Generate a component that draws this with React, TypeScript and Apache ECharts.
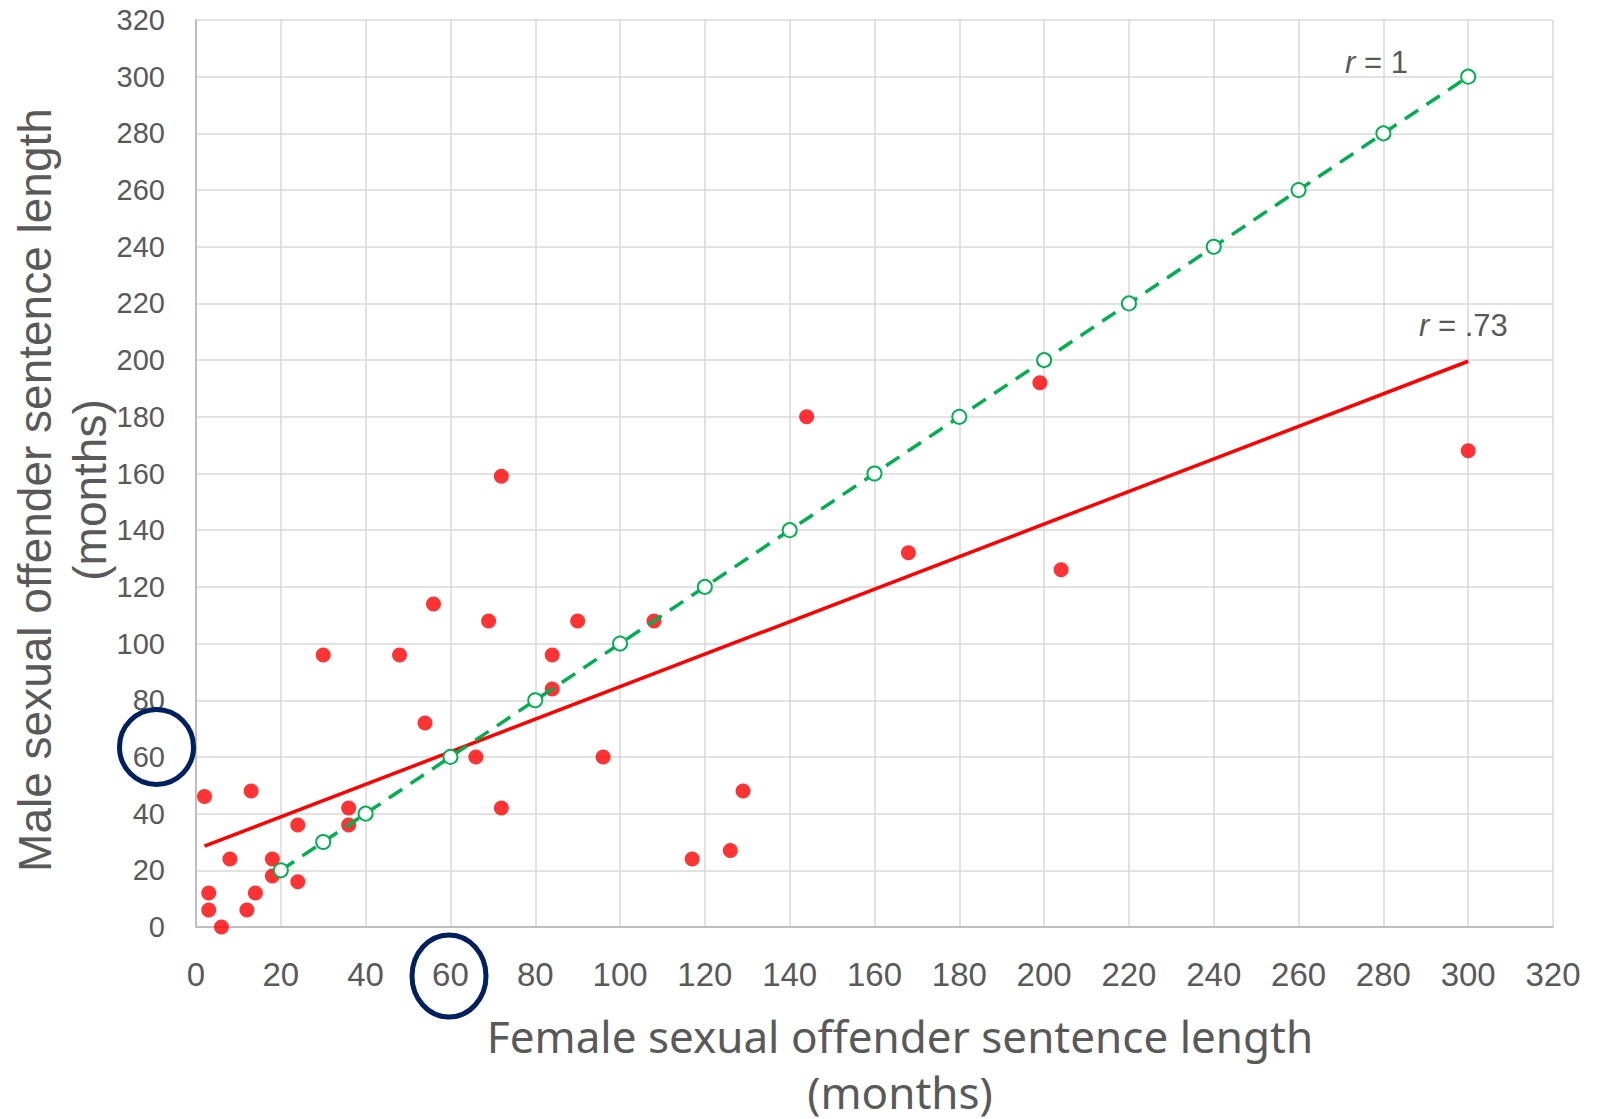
import React, { useEffect, useRef } from "react";
import * as echarts from "echarts";

// Female (x) vs male (y) sentence lengths, in months
const femaleMonths = [2, 13, 3, 3, 6, 8, 12, 14, 18, 18, 24, 24, 30, 36, 36, 48, 54, 56, 66, 69, 72, 72, 84, 84, 90, 96, 108, 117, 126, 129, 144, 168, 199, 204, 300];
const maleMonths = [46, 48, 12, 6, 0, 24, 6, 12, 24, 18, 36, 16, 96, 42, 36, 96, 72, 114, 60, 108, 159, 42, 96, 84, 108, 60, 108, 24, 27, 48, 180, 132, 192, 126, 168];

// Fitted line (r = .73)
const trendX = [2, 300];
const trendY = [28.5, 199.6];

// Identity line (r = 1)
const identityX = [20, 30, 40, 60, 80, 100, 120, 140, 160, 180, 200, 220, 240, 260, 280, 300];
const identityY = [20, 30, 40, 60, 80, 100, 120, 140, 160, 180, 200, 220, 240, 260, 280, 300];

const axisMin = 0;
const axisMax = 320;
const axisStep = 20;

const xTitle = "Female sexual offender sentence length";
const yTitle = "Male sexual offender sentence length";
const unitTitle = "(months)";

export default function App() {
  const ref = useRef<HTMLDivElement>(null);

  useEffect(() => {
    if (!ref.current) return;
    const chart = echarts.init(ref.current, undefined, { renderer: "svg" });
    const grey = "#595959";
    const tickFont = "'Liberation Sans', Arial, sans-serif";
    const titleFont = "'Noto Sans', 'Open Sans', sans-serif";

    const rLabel = (x: number, y: number, value: string) => ({
      type: "text",
      x,
      y,
      style: {
        text: "{i|r}{n| = " + value + "}",
        fill: grey,
        fontSize: 31,
        fontFamily: tickFont,
        textAlign: "left",
        textVerticalAlign: "middle",
        rich: {
          i: { fontStyle: "italic", fontSize: 31, fill: grey, fontFamily: tickFont },
          n: { fontSize: 31, fill: grey, fontFamily: tickFont },
        },
      },
      z: 10,
    });

    chart.setOption({
      animation: false,
      backgroundColor: "#ffffff",
      grid: { left: 196, top: 20, right: 56, bottom: 192, containLabel: false },
      xAxis: {
        type: "value",
        min: axisMin,
        max: axisMax,
        interval: axisStep,
        axisLine: { show: true, lineStyle: { color: "#BFBFBF", width: 2 } },
        axisTick: { show: false },
        axisLabel: { color: grey, fontSize: 33, fontFamily: tickFont, margin: 31 },
        splitLine: { show: true, lineStyle: { color: "#D9D9D9", width: 1.5 } },
      },
      yAxis: {
        type: "value",
        min: axisMin,
        max: axisMax,
        interval: axisStep,
        axisLine: { show: true, lineStyle: { color: "#BFBFBF", width: 2 } },
        axisTick: { show: false },
        axisLabel: { color: grey, fontSize: 29, fontFamily: tickFont, margin: 31 },
        splitLine: { show: true, lineStyle: { color: "#D9D9D9", width: 1.5 } },
      },
      series: [
        {
          type: "scatter",
          name: "Sentences",
          data: femaleMonths.map((x, i) => [x, maleMonths[i]]),
          symbol: "circle",
          symbolSize: 15,
          itemStyle: { color: "#FF0000" },
          z: 2,
        },
        {
          type: "line",
          name: "r = .73",
          data: trendX.map((x, i) => [x, trendY[i]]),
          showSymbol: false,
          symbol: "none",
          lineStyle: { color: "#FF0000", width: 3.5 },
          z: 3,
        },
        {
          type: "line",
          name: "r = 1",
          data: identityX.map((x, i) => [x, identityY[i]]),
          symbol: "circle",
          symbolSize: 14,
          showSymbol: true,
          itemStyle: { color: "#ffffff", borderColor: "#00B050", borderWidth: 2 },
          lineStyle: { color: "#00B050", width: 3.5, type: [16, 10] },
          z: 4,
        },
      ],
      graphic: [
        rLabel(1345, 62, "1"),
        rLabel(1419, 325, ".73"),
        {
          type: "text",
          x: 900,
          y: 1036,
          style: {
            text: xTitle,
            fill: grey,
            fontSize: 44,
            fontFamily: titleFont,
            textAlign: "center",
            textVerticalAlign: "middle",
          },
        },
        {
          type: "text",
          x: 900,
          y: 1092,
          style: {
            text: unitTitle,
            fill: grey,
            fontSize: 44,
            lineHeight: 46,
            fontFamily: titleFont,
            textAlign: "center",
            textVerticalAlign: "middle",
          },
        },
        {
          type: "text",
          x: 35,
          y: 490,
          rotation: Math.PI / 2,
          style: {
            text: yTitle,
            fill: grey,
            fontSize: 46,
            fontFamily: tickFont,
            textAlign: "center",
            textVerticalAlign: "middle",
          },
        },
        {
          type: "text",
          x: 90,
          y: 490,
          rotation: Math.PI / 2,
          style: {
            text: unitTitle,
            fill: grey,
            fontSize: 46,
            fontFamily: tickFont,
            textAlign: "center",
            textVerticalAlign: "middle",
          },
        },
        {
          type: "ellipse",
          shape: { cx: 156.5, cy: 747, rx: 37, ry: 37.5 },
          style: { fill: "none", stroke: "#002060", lineWidth: 5 },
          z: 10,
        },
        {
          type: "ellipse",
          shape: { cx: 449, cy: 976, rx: 37, ry: 41 },
          style: { fill: "none", stroke: "#002060", lineWidth: 5 },
          z: 10,
        },
      ],
    });

    return () => {
      chart.dispose();
    };
  }, []);

  return (
    <div
      ref={ref}
      style={{ position: "absolute", left: 0, top: 0, width: 1609, height: 1119 }}
    />
  );
}
